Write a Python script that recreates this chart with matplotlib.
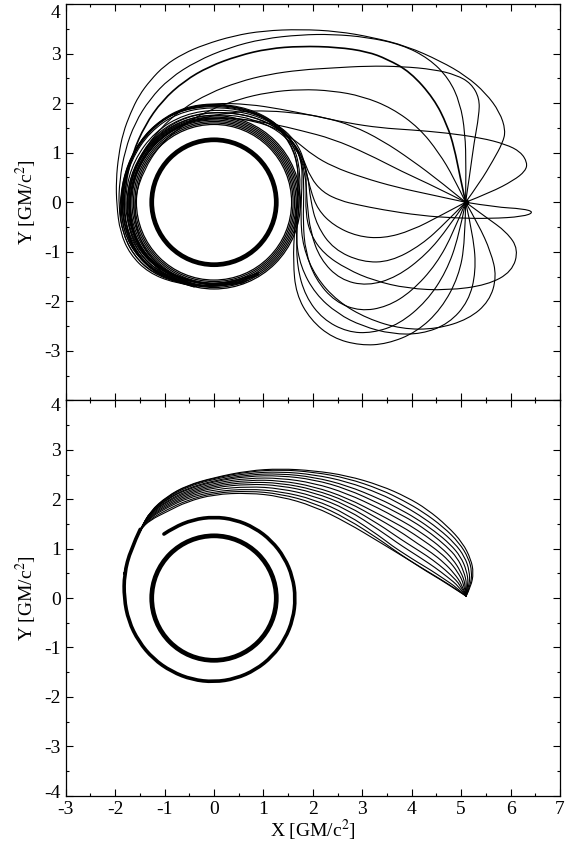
import numpy as np
import matplotlib
matplotlib.use("Agg")
import matplotlib.pyplot as plt
from matplotlib.patches import Circle, PathPatch
from matplotlib.path import Path
from matplotlib.ticker import MultipleLocator
from matplotlib.transforms import ScaledTranslation

plt.rcParams["font.family"] = ["Liberation Serif", "DejaVu Serif"]
plt.rcParams["mathtext.fontset"] = "stix"
plt.rcParams["axes.unicode_minus"] = False

# ---- data (units of GM/c^2) ----
bh_radius = 1.26
source_top = (5.09, 0.0)

# photon-ring band around the hole, top panel
ring_radii_top = [1.57, 1.60, 1.63, 1.66, 1.69, 1.72, 1.75]

# top panel: rays leaving the source upward and over the hole
ray_up_24 = [(5.09, 0.0), (5.6, 0.2), (6.06, 0.44), (6.3, 0.63), (6.34, 0.8), (6.2, 1.02), (5.9, 1.17),
             (5.4, 1.3), (4.7, 1.4), (4.0, 1.46), (3.37, 1.5), (2.7, 1.6), (2.0, 1.75), (1.35, 1.88),
             (0.7, 1.98), (0.0, 2.0), (-0.6, 1.92), (-1.1, 1.65), (-1.5, 1.25), (-1.75, 0.7),
             (-1.86, 0.1), (-1.82, -0.5), (-1.58, -1.05), (-1.15, -1.43), (-0.55, -1.65), (0.1, -1.71),
             (0.7, -1.57)]
ray_up_55 = [(5.09, 0.0), (5.38, 0.4), (5.65, 0.85), (5.84, 1.2), (5.9, 1.45), (5.78, 1.82), (5.5, 2.2),
             (5.1, 2.55), (4.58, 2.85), (3.9, 3.15), (3.2, 3.33), (2.5, 3.45), (1.75, 3.49), (1.0, 3.46),
             (0.4, 3.36), (-0.2, 3.18), (-0.62, 3.0), (-1.0, 2.76), (-1.29, 2.46), (-1.52, 2.15),
             (-1.69, 1.8), (-1.84, 1.4), (-1.93, 0.95), (-1.98, 0.45), (-1.97, -0.05), (-1.9, -0.6),
             (-1.7, -1.05), (-1.33, -1.42), (-0.8, -1.63), (-0.1, -1.72), (0.6, -1.62)]
ray_up_80 = [(5.09, 0.0), (5.18, 0.6), (5.26, 1.2), (5.36, 1.75), (5.37, 2.1), (5.2, 2.4), (4.9, 2.57),
             (4.45, 2.68), (3.8, 2.74), (3.1, 2.75), (2.4, 2.71), (1.75, 2.67), (1.1, 2.58), (0.5, 2.43),
             (-0.1, 2.2), (-0.65, 1.88), (-1.1, 1.48), (-1.45, 1.0), (-1.68, 0.45), (-1.78, -0.1),
             (-1.7, -0.65), (-1.45, -1.12), (-1.0, -1.48), (-0.4, -1.68), (0.3, -1.7), (0.9, -1.47)]
ray_up_88 = [(5.09, 0.0), (5.1, 0.7), (5.08, 1.4), (4.98, 2.0), (4.75, 2.5), (4.35, 2.9), (3.8, 3.18),
             (3.1, 3.33), (2.4, 3.39), (1.75, 3.38), (1.0, 3.3), (0.3, 3.12), (-0.35, 2.85), (-0.9, 2.5),
             (-1.3, 2.08), (-1.6, 1.6), (-1.8, 1.05), (-1.91, 0.45), (-1.93, -0.1), (-1.85, -0.62),
             (-1.62, -1.08), (-1.25, -1.43), (-0.7, -1.64), (0.0, -1.72), (0.65, -1.6)]
ray_up_100 = [(5.09, 0.0), (4.97, 0.55), (4.86, 1.1), (4.72, 1.55), (4.45, 2.09), (3.97, 2.63), (3.5, 2.89),
              (3.1, 3.04), (2.5, 3.13), (1.75, 3.15), (1.1, 3.1), (0.5, 2.96), (-0.1, 2.74), (-0.6, 2.45),
              (-1.05, 2.05), (-1.4, 1.55), (-1.65, 0.98), (-1.8, 0.35), (-1.82, -0.3), (-1.65, -0.9),
              (-1.28, -1.38), (-0.7, -1.63), (0.0, -1.72), (0.6, -1.62)]
ray_up_115 = [(5.09, 0.0), (4.85, 0.5), (4.55, 1.0), (4.15, 1.5), (3.6, 1.9), (3.0, 2.14), (2.4, 2.25),
              (1.75, 2.28), (1.1, 2.22), (0.5, 2.08), (-0.1, 1.86), (-0.65, 1.55), (-1.1, 1.15),
              (-1.42, 0.65), (-1.6, 0.1), (-1.6, -0.45), (-1.4, -0.98), (-1.0, -1.38), (-0.45, -1.6),
              (0.2, -1.68), (0.8, -1.5)]
ray_up_135 = [(5.09, 0.0), (4.6, 0.4), (4.0, 0.85), (3.4, 1.25), (2.8, 1.55), (2.2, 1.72), (1.75, 1.79),
              (1.1, 1.85), (0.5, 1.83), (-0.1, 1.74), (-0.7, 1.56), (-1.2, 1.2), (-1.55, 0.7), (-1.72, 0.1),
              (-1.7, -0.5), (-1.45, -1.05), (-1.0, -1.43), (-0.4, -1.64), (0.3, -1.68), (0.9, -1.45)]
ray_up_150 = [(5.09, 0.0), (4.5, 0.3), (3.8, 0.62), (3.1, 0.98), (2.4, 1.28), (1.75, 1.45), (1.2, 1.58),
              (0.6, 1.68), (0.0, 1.7), (-0.6, 1.6), (-1.15, 1.25), (-1.52, 0.75), (-1.7, 0.15),
              (-1.68, -0.45), (-1.45, -1.0), (-1.0, -1.4), (-0.4, -1.62), (0.3, -1.66), (0.9, -1.42)]
ray_up_170 = [(5.09, 0.0), (4.4, 0.15), (3.7, 0.3), (3.0, 0.5), (2.4, 0.72), (2.0, 0.95), (1.7, 1.2),
              (1.35, 1.45), (0.8, 1.65), (0.2, 1.72), (-0.5, 1.66), (-1.1, 1.35), (-1.5, 0.85), (-1.7, 0.25),
              (-1.7, -0.4), (-1.5, -0.95), (-1.05, -1.38), (-0.45, -1.62), (0.25, -1.66), (0.9, -1.43)]

# top panel: rays leaving the source downward (petals below)
ray_dn_8 = [(5.09, 0.0), (5.7, -0.1), (6.25, -0.13), (6.48, -0.2), (6.25, -0.29), (5.6, -0.33), (4.9, -0.32),
            (4.18, -0.27), (3.4, -0.15), (2.9, -0.05), (2.56, 0.03), (2.2, 0.2), (1.95, 0.5), (1.8, 0.9),
            (1.55, 1.3), (1.1, 1.62), (0.5, 1.8), (-0.2, 1.82), (-0.85, 1.62), (-1.35, 1.2), (-1.65, 0.6),
            (-1.75, -0.05), (-1.65, -0.65), (-1.3, -1.18), (-0.75, -1.52), (-0.1, -1.67)]
ray_dn_35 = [(5.09, 0.0), (5.35, -0.45), (5.6, -1.0), (5.72, -1.5), (5.57, -2.0), (5.15, -2.36), (4.5, -2.56),
             (3.8, -2.56), (3.1, -2.35), (2.5, -2.0), (2.05, -1.5), (1.8, -0.9), (1.75, -0.3), (1.78, 0.3),
             (1.78, 0.85), (1.55, 1.3), (1.1, 1.68), (0.5, 1.9), (-0.2, 1.95), (-0.9, 1.78), (-1.42, 1.35),
             (-1.75, 0.75), (-1.9, 0.05), (-1.83, -0.6), (-1.52, -1.15), (-1.02, -1.5), (-0.38, -1.7)]
ray_dn_55 = [(5.09, 0.0), (5.5, -0.3), (5.92, -0.6), (6.16, -0.95), (6.03, -1.4), (5.53, -1.67), (4.72, -1.78),
             (3.91, -1.74), (3.23, -1.58), (2.69, -1.35), (2.22, -1.04), (1.95, -0.65), (1.85, -0.2),
             (1.87, 0.3), (1.85, 0.8), (1.65, 1.25), (1.25, 1.6), (0.65, 1.85), (-0.05, 1.93), (-0.75, 1.8),
             (-1.3, 1.42), (-1.68, 0.85), (-1.85, 0.2), (-1.8, -0.45), (-1.52, -1.05), (-1.05, -1.45),
             (-0.4, -1.68)]
ray_dn_75 = [(5.09, 0.0), (5.25, -0.7), (5.3, -1.4), (5.15, -2.0), (4.75, -2.45), (4.2, -2.66), (3.6, -2.66),
             (3.0, -2.5), (2.5, -2.25), (2.05, -1.85), (1.75, -1.3), (1.65, -0.7), (1.68, 0.0), (1.72, 0.65),
             (1.55, 1.2), (1.15, 1.65), (0.55, 1.92), (-0.15, 1.98), (-0.85, 1.8), (-1.4, 1.38),
             (-1.76, 0.78), (-1.9, 0.1), (-1.84, -0.58), (-1.54, -1.13), (-1.03, -1.5), (-0.38, -1.7)]
ray_dn_90 = [(5.09, 0.0), (5.08, -0.8), (4.95, -1.5), (4.6, -2.15), (4.1, -2.62), (3.5, -2.86), (2.96, -2.89),
             (2.4, -2.74), (1.95, -2.37), (1.66, -1.85), (1.6, -1.2), (1.63, -0.5), (1.7, 0.2), (1.7, 0.8),
             (1.5, 1.3), (1.05, 1.72), (0.4, 1.95), (-0.3, 1.98), (-0.95, 1.75), (-1.45, 1.3), (-1.78, 0.7),
             (-1.92, 0.0), (-1.85, -0.65), (-1.55, -1.18), (-1.05, -1.53), (-0.4, -1.71)]
ray_dn_105 = [(5.09, 0.0), (4.95, -0.7), (4.7, -1.4), (4.3, -2.0), (3.75, -2.46), (3.2, -2.64), (2.7, -2.62),
              (2.2, -2.36), (1.85, -1.9), (1.68, -1.3), (1.67, -0.65), (1.72, 0.0), (1.75, 0.6), (1.62, 1.15),
              (1.28, 1.6), (0.7, 1.9), (0.0, 2.0), (-0.7, 1.88), (-1.3, 1.48), (-1.7, 0.9), (-1.88, 0.2),
              (-1.83, -0.5), (-1.55, -1.1), (-1.05, -1.5), (-0.4, -1.7)]
ray_dn_120 = [(5.09, 0.0), (4.85, -0.6), (4.5, -1.25), (4.0, -1.8), (3.5, -2.11), (2.96, -2.2), (2.45, -2.01),
              (2.05, -1.55), (1.85, -1.0), (1.8, -0.4), (1.82, 0.2), (1.8, 0.75), (1.6, 1.25), (1.2, 1.65),
              (0.6, 1.9), (-0.1, 1.97), (-0.8, 1.82), (-1.35, 1.4), (-1.72, 0.8), (-1.88, 0.1),
              (-1.8, -0.55), (-1.5, -1.12), (-1.0, -1.5), (-0.35, -1.7)]
ray_dn_135 = [(5.09, 0.0), (4.75, -0.5), (4.3, -1.05), (3.7, -1.51), (3.1, -1.69), (2.55, -1.56), (2.15, -1.15),
              (1.95, -0.6), (1.88, 0.0), (1.85, 0.6), (1.68, 1.1), (1.35, 1.5), (0.8, 1.78), (0.1, 1.88),
              (-0.6, 1.78), (-1.2, 1.42), (-1.62, 0.85), (-1.8, 0.2), (-1.76, -0.45), (-1.5, -1.02),
              (-1.02, -1.43), (-0.4, -1.66)]
ray_dn_150 = [(5.09, 0.0), (4.7, -0.4), (4.2, -0.86), (3.57, -1.2), (3.0, -1.21), (2.42, -0.95), (2.08, -0.47),
              (1.95, 0.05), (1.9, 0.55), (1.75, 1.0), (1.45, 1.38), (0.95, 1.68), (0.3, 1.82), (-0.4, 1.78),
              (-1.0, 1.5), (-1.45, 1.02), (-1.73, 0.4), (-1.78, -0.25), (-1.58, -0.88), (-1.15, -1.35),
              (-0.55, -1.62)]
ray_dn_165 = [(5.09, 0.0), (4.6, -0.26), (4.0, -0.57), (3.43, -0.73), (2.9, -0.69), (2.42, -0.47), (2.1, -0.15),
              (1.95, 0.25), (1.85, 0.7), (1.65, 1.1), (1.3, 1.45), (0.8, 1.68), (0.2, 1.78), (-0.45, 1.72),
              (-1.05, 1.42), (-1.5, 0.92), (-1.72, 0.3), (-1.72, -0.35), (-1.5, -0.93), (-1.08, -1.37),
              (-0.5, -1.62)]

rays_top = [ray_up_24, ray_up_55, ray_up_80, ray_up_88, ray_up_115, ray_up_135, ray_up_150,
            ray_up_170, ray_dn_8, ray_dn_35, ray_dn_55, ray_dn_75, ray_dn_90, ray_dn_105, ray_dn_120,
            ray_dn_135, ray_dn_150, ray_dn_165]
ray_bold_top = ray_up_100

# bottom panel: bundle of rays from the source up and over to the left
bundle_tail = [(-1.69, 0.975), (-1.82, 0.49)]
bundle = [
    [(5.10, 0.04), (5.20, 0.24), (5.25, 0.51), (5.2, 0.78), (5.03, 1.12), (4.72, 1.46), (4.31, 1.80),
     (3.91, 2.04), (3.37, 2.28), (2.69, 2.48), (2.02, 2.58), (1.34, 2.62), (0.7, 2.58), (0.0, 2.44),
     (-0.55, 2.28), (-0.95, 2.06), (-1.29, 1.76), (-1.49, 1.39)],
    [(5.10, 0.04), (5.19, 0.26), (5.22, 0.53), (5.15, 0.81), (4.96, 1.12), (4.64, 1.44), (4.22, 1.75),
     (3.84, 1.97), (3.37, 2.2), (2.69, 2.43), (2.02, 2.55), (1.34, 2.6), (0.7, 2.56), (0.0, 2.43),
     (-0.55, 2.27), (-0.95, 2.05), (-1.29, 1.75), (-1.49, 1.39)],
    [(5.10, 0.04), (5.17, 0.27), (5.17, 0.55), (5.07, 0.84), (4.87, 1.11), (4.55, 1.4), (4.14, 1.69),
     (3.78, 1.9), (3.37, 2.11), (2.69, 2.36), (2.02, 2.5), (1.34, 2.56), (0.7, 2.53), (0.0, 2.41),
     (-0.55, 2.25), (-0.95, 2.03), (-1.29, 1.75), (-1.49, 1.39)],
    [(5.10, 0.04), (5.15, 0.28), (5.11, 0.56), (4.99, 0.84), (4.78, 1.09), (4.47, 1.35), (4.08, 1.62),
     (3.72, 1.82), (3.37, 2.0), (2.69, 2.28), (2.02, 2.45), (1.34, 2.52), (0.7, 2.5), (0.0, 2.38),
     (-0.55, 2.22), (-0.95, 2.01), (-1.29, 1.74), (-1.49, 1.39)],
    [(5.10, 0.04), (5.12, 0.28), (5.05, 0.55), (4.92, 0.82), (4.7, 1.05), (4.4, 1.3), (4.02, 1.56),
     (3.68, 1.74), (3.37, 1.9), (2.69, 2.21), (2.02, 2.4), (1.34, 2.48), (0.7, 2.47), (0.0, 2.36),
     (-0.55, 2.2), (-0.95, 2.0), (-1.29, 1.73), (-1.49, 1.39)],
    [(5.10, 0.04), (5.09, 0.28), (4.99, 0.54), (4.83, 0.79), (4.6, 1.02), (4.3, 1.25), (3.95, 1.48),
     (3.64, 1.65), (3.37, 1.8), (2.69, 2.12), (2.02, 2.33), (1.34, 2.43), (0.7, 2.43), (0.0, 2.33),
     (-0.55, 2.17), (-0.95, 1.97), (-1.29, 1.72), (-1.49, 1.39)],
    [(5.10, 0.04), (5.06, 0.28), (4.93, 0.53), (4.75, 0.76), (4.5, 0.98), (4.2, 1.19), (3.9, 1.39),
     (3.61, 1.55), (3.37, 1.68), (2.69, 2.03), (2.02, 2.26), (1.34, 2.38), (0.7, 2.39), (0.0, 2.3),
     (-0.55, 2.14), (-0.95, 1.95), (-1.29, 1.71), (-1.49, 1.39)],
    [(5.10, 0.04), (5.02, 0.27), (4.86, 0.5), (4.65, 0.72), (4.4, 0.92), (4.12, 1.1), (3.85, 1.29),
     (3.59, 1.45), (3.37, 1.58), (2.69, 1.96), (2.02, 2.2), (1.34, 2.33), (0.7, 2.35), (0.0, 2.27),
     (-0.55, 2.11), (-0.95, 1.92), (-1.29, 1.69), (-1.49, 1.39)],
    [(5.10, 0.04), (4.99, 0.26), (4.79, 0.47), (4.56, 0.67), (4.3, 0.86), (4.03, 1.03), (3.78, 1.19),
     (3.56, 1.34), (3.37, 1.47), (2.69, 1.88), (2.02, 2.14), (1.34, 2.28), (0.7, 2.31), (0.0, 2.24),
     (-0.55, 2.08), (-0.95, 1.89), (-1.29, 1.67), (-1.49, 1.39)],
    [(5.10, 0.04), (4.95, 0.24), (4.72, 0.43), (4.47, 0.62), (4.2, 0.8), (3.95, 0.96), (3.72, 1.11),
     (3.37, 1.36), (2.69, 1.8), (2.02, 2.07), (1.34, 2.22), (0.7, 2.26), (0.0, 2.2), (-0.55, 2.05),
     (-0.95, 1.86), (-1.29, 1.65), (-1.49, 1.39)],
    [(5.10, 0.04), (4.9, 0.22), (4.65, 0.39), (4.38, 0.57), (4.11, 0.73), (3.86, 0.89), (3.6, 1.06),
     (3.37, 1.24), (2.69, 1.7), (2.02, 2.0), (1.34, 2.16), (0.7, 2.21), (0.0, 2.16), (-0.55, 2.02),
     (-0.95, 1.83), (-1.29, 1.63), (-1.49, 1.39)],
    [(5.10, 0.04), (4.87, 0.2), (4.6, 0.37), (4.32, 0.54), (4.04, 0.71), (3.78, 0.88), (3.55, 1.04),
     (3.37, 1.17), (2.69, 1.61), (2.02, 1.93), (1.34, 2.11), (0.7, 2.17), (0.0, 2.13), (-0.55, 1.98),
     (-0.95, 1.79), (-1.29, 1.6), (-1.49, 1.39)],
    [(5.10, 0.04), (4.85, 0.2), (4.58, 0.375), (4.3, 0.54), (4.04, 0.71), (3.7, 0.92), (3.37, 1.12),
     (2.69, 1.53), (2.02, 1.86), (1.34, 2.06), (0.7, 2.13), (0.0, 2.1), (-0.55, 1.95), (-0.95, 1.75),
     (-1.29, 1.58), (-1.49, 1.39)],
]

# common spiral the bundle winds into, read as angle (deg) and radius
spiral_deg = [137, 150, 165, 180, 195, 210, 225, 240, 255, 270, 285, 300, 315, 330, 345, 360,
              375, 390, 405, 420, 435, 450, 465, 480, 488]
spiral_r = [2.04, 1.95, 1.88, 1.82, 1.79, 1.76, 1.74, 1.72, 1.71, 1.70, 1.69, 1.68, 1.67, 1.66, 1.655,
            1.65, 1.648, 1.646, 1.645, 1.645, 1.645, 1.645, 1.645, 1.645, 1.645]

x_ticks = [-3, -2, -1, 0, 1, 2, 3, 4, 5, 6, 7]
y_ticks = [-4, -3, -2, -1, 0, 1, 2, 3, 4]


def smooth_path(points):
    # quadratic B-spline through the read points, drawn with matplotlib's curve codes
    pts = np.asarray(points, float)
    n = len(pts)
    verts, codes = [pts[0]], [Path.MOVETO]
    for i in range(1, n - 1):
        end = pts[i + 1] if i == n - 2 else (pts[i] + pts[i + 1]) / 2
        verts += [pts[i], end]
        codes += [Path.CURVE3, Path.CURVE3]
    return Path(verts, codes)


def draw_curve(ax, points, lw):
    ax.add_patch(PathPatch(smooth_path(points), fill=False, ec="black", lw=lw,
                           capstyle="round", joinstyle="round"))


# ---- figure ----
fig = plt.figure(figsize=(5.65, 8.55), dpi=100)
ax1 = fig.add_axes([0.1163, 0.5316, 0.8749, 0.4637])
ax2 = fig.add_axes([0.1163, 0.0694, 0.8749, 0.4622])

lw = 0.8
for ray in rays_top:
    draw_curve(ax1, ray, lw)
draw_curve(ax1, ray_bold_top, 1.2)
for r in ring_radii_top:
    ax1.add_patch(Circle((0, 0), r, fill=False, color="black", lw=0.9))
ax1.add_patch(Circle((0, 0), bh_radius, fill=False, color="black", lw=3.4))
ax1.plot(*source_top, "o", color="black", ms=3)

for ray in bundle:
    draw_curve(ax2, ray + bundle_tail, lw)
sp = np.radians(spiral_deg)
spiral_pts = list(zip(np.array(spiral_r) * np.cos(sp), np.array(spiral_r) * np.sin(sp)))
draw_curve(ax2, spiral_pts, 2.6)
ax2.add_patch(Circle((0, 0), bh_radius, fill=False, color="black", lw=3.4))

for ax in (ax1, ax2):
    ax.set_xlim(-3, 7)
    ax.set_ylim(-4, 4)
    ax.set_xticks(x_ticks)
    ax.set_yticks(y_ticks)
    ax.xaxis.set_minor_locator(MultipleLocator(0.5))
    ax.yaxis.set_minor_locator(MultipleLocator(0.5))
    ax.tick_params(which="both", direction="in", top=True, right=True, labelsize=14, width=0.8)
    ax.tick_params(which="major", length=5)
    ax.tick_params(which="minor", length=2.5)
    for s in ax.spines.values():
        s.set_linewidth(0.9)
    ax.set_ylabel("Y [GM/c$^2$]", fontsize=14, labelpad=4)

ax1.tick_params(labelbottom=False)
ax1.set_yticks(y_ticks[1:])
ax1.yaxis.set_minor_locator(MultipleLocator(0.5))
ax2.set_xlabel("X [GM/c$^2$]", fontsize=14, labelpad=0)


def nudge(label, dy_px):
    label.set_transform(label.get_transform() + ScaledTranslation(0, dy_px / 100, fig.dpi_scale_trans))


nudge(ax1.yaxis.get_major_ticks()[-1].label1, -7)
nudge(ax2.yaxis.get_major_ticks()[-1].label1, -4)
nudge(ax2.yaxis.get_major_ticks()[0].label1, 4)

fig.savefig("out.png", dpi=100)
